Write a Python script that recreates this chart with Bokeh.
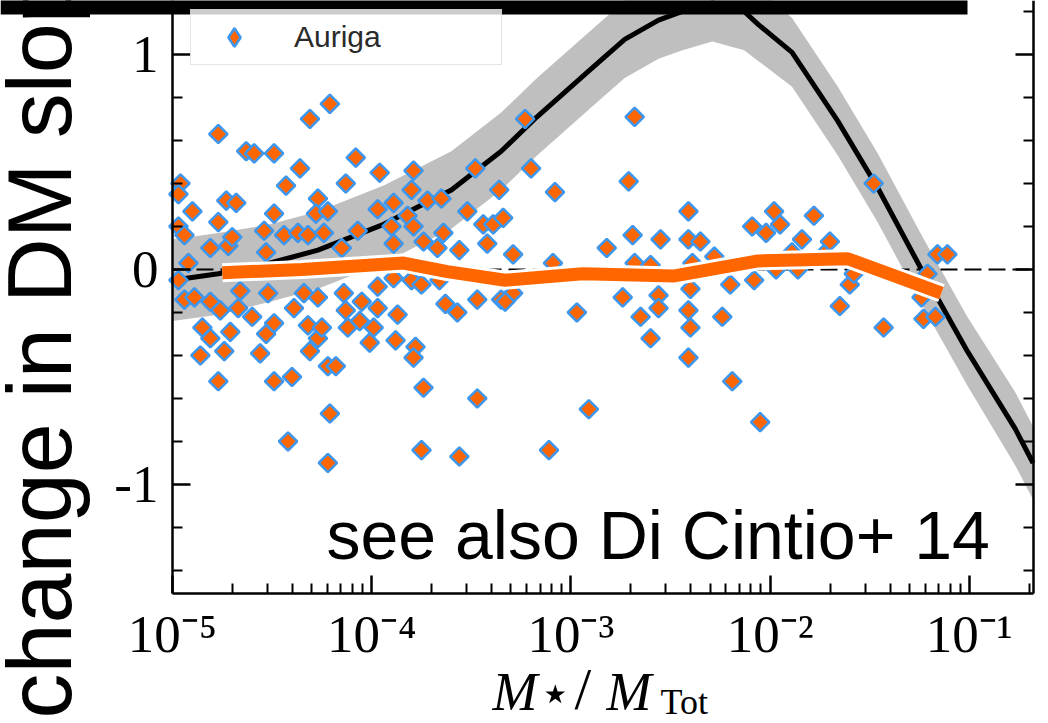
import numpy as np
from bokeh.plotting import figure
from bokeh.models import (Range1d, FixedTicker, LinearAxis, CustomJSTickFormatter,
                          Label, BoxAnnotation, LegendItem, Legend)
from bokeh.embed import file_html
from bokeh.resources import INLINE

# ---------------- data ----------------
curve_logx = [-5.00, -4.77, -4.51, -4.27, -3.94, -3.60, -3.35, -3.17, -2.89, -2.73,
              -2.56, -2.44, -2.29, -2.13, -2.06, -1.89, -1.66, -1.46, -1.24, -1.01,
              -0.77, -0.68]
curve_y = [-0.05, -0.02, 0.03, 0.09, 0.21, 0.37, 0.55, 0.71, 0.94, 1.07,
           1.16, 1.20, 1.24, 1.20, 1.14, 1.01, 0.69, 0.38, 0.00, -0.38,
           -0.74, -0.90]
curve_halfwidth = [0.19, 0.19, 0.18, 0.18, 0.18, 0.18, 0.18, 0.18, 0.18, 0.18,
                   0.18, 0.18, 0.18, 0.18, 0.17, 0.16, 0.16, 0.16, 0.16, 0.16,
                   0.17, 0.17]

median_logx = [-4.75, -4.35, -3.84, -3.62, -3.33, -2.94, -2.48, -2.06, -1.61, -1.14]
median_y = [-0.015, 0.0, 0.03, -0.01, -0.05, -0.02, -0.03, 0.04, 0.05, -0.11]

auriga_logx = [
    -4.21, -4.31, -4.77, -4.63, -4.59, -4.49, -4.36, -4.43, -4.96, -4.97,
    -4.73, -4.68, -4.90, -4.49, -4.27, -4.77, -4.97, -4.94, -4.54, -4.44,
    -4.37, -4.32, -4.24, -4.81, -4.72, -4.53, -4.28, -4.22, -4.92, -4.97,
    -4.94, -4.81, -4.67, -4.52, -4.39, -4.34, -4.27, -4.85, -4.81, -4.71,
    -4.60, -4.53, -4.49, -4.32, -4.27, -4.25, -4.74, -4.86, -4.56, -4.31,
    -4.22, -4.77, -4.49, -4.40, -4.21, -4.42, -4.22, -4.89, -4.76, -4.66,
    -4.70, -4.08, -3.96, -3.79, -4.13, -3.48, -3.36, -3.80, -3.89, -3.97,
    -3.72, -3.65, -3.82, -3.52, -4.07, -3.90, -3.79, -3.64, -3.44, -3.39,
    -3.74, -3.67, -3.56, -3.42, -3.89, -4.15, -4.14, -3.97, -4.05, -3.97,
    -4.13, -3.87, -4.06, -3.99, -4.12, -3.63, -3.57, -3.47, -3.35, -4.01,
    -3.88, -3.78, -3.79, -4.18, -3.74, -3.47, -3.75, -3.56, -3.89, -3.80,
    -3.75, -3.66, -3.23, -2.68, -3.20, -2.71, -3.08, -3.34, -2.41, -2.69,
    -2.55, -2.41, -2.82, -3.29, -3.09, -2.68, -2.60, -2.39, -3.29, -3.33,
    -2.97, -2.74, -2.56, -2.56, -2.65, -2.41, -2.40, -2.60, -2.41, -2.91,
    -3.11, -2.40, -1.48, -1.98, -1.78, -2.09, -1.95, -2.02, -1.84, -1.70,
    -2.28, -1.89, -1.73, -1.16, -1.11, -1.21, -2.20, -2.08, -1.60, -1.97,
    -1.86, -1.58, -1.65, -1.24, -2.24, -1.43, -1.23, -1.17, -2.19, -2.05,
    -2.35]
auriga_y = [
    0.77, 0.70, 0.63, 0.55, 0.54, 0.54, 0.47, 0.39, 0.40, 0.35,
    0.32, 0.31, 0.27, 0.26, 0.33, 0.22, 0.20, 0.16, 0.18, 0.16,
    0.17, 0.16, 0.17, 0.10, 0.11, 0.08, 0.26, 0.27, 0.03, -0.05,
    -0.14, -0.15, -0.18, -0.11, -0.18, -0.11, -0.13, -0.27, -0.32, -0.29,
    -0.22, -0.30, -0.25, -0.26, -0.32, -0.27, -0.38, -0.40, -0.39, -0.38,
    -0.45, -0.52, -0.52, -0.50, -0.67, -0.80, -0.90, -0.13, -0.19, -0.10,
    0.15, 0.52, 0.45, 0.46, 0.40, 0.47, 0.37, 0.37, 0.31, 0.28,
    0.32, 0.33, 0.25, 0.27, 0.18, 0.20, 0.20, 0.17, 0.21, 0.21,
    0.13, 0.10, 0.09, 0.12, 0.12, 0.10, -0.11, -0.08, -0.15, -0.18,
    -0.19, -0.21, -0.24, -0.27, -0.27, -0.16, -0.20, -0.14, -0.14, -0.34,
    -0.33, -0.36, -0.41, -0.45, -0.55, -0.60, -0.84, -0.87, -0.04, -0.05,
    -0.07, -0.05, 0.70, 0.71, 0.47, 0.41, 0.36, 0.24, 0.27, 0.16,
    0.14, 0.14, 0.10, 0.07, 0.03, 0.03, 0.02, 0.03, -0.11, -0.15,
    -0.20, -0.13, -0.12, -0.18, -0.22, -0.19, -0.27, -0.32, -0.41, -0.65,
    -0.84, -0.09, 0.40, 0.27, 0.25, 0.20, 0.21, 0.17, 0.14, 0.13,
    0.06, 0.08, 0.07, 0.07, 0.07, -0.02, -0.07, -0.05, -0.07, 0.00,
    0.00, -0.02, -0.17, -0.13, -0.22, -0.27, -0.23, -0.22, -0.52, -0.71,
    0.13]

x_major_ticks = [1e-5, 1e-4, 1e-3, 1e-2, 1e-1]
x_minor_mantissas = [2, 3, 4, 5, 6, 7, 8, 9]
y_major_ticks = [-1, 0, 1]
y_minor_ticks = [-1.4, -1.2, -0.8, -0.6, -0.4, -0.2, 0.2, 0.4, 0.6, 0.8, 1.2]
x_limits = (1e-5, 0.21)
y_limits = (-1.507, 1.251)
zero_level = 0.0

# ---------------- layout (pixels) ----------------
W, H = 1048, 723
ax_left, ax_right, ax_top, ax_bottom = 172, 1033, 0, 593

lx0, lx1 = np.log10(x_limits[0]), np.log10(x_limits[1])
ppd = (ax_right - ax_left) / (lx1 - lx0)
x_start = 10 ** (lx0 - ax_left / ppd)
x_end = 10 ** (lx1 + (W - ax_right) / ppd)
ppu = (ax_bottom - ax_top) / (y_limits[1] - y_limits[0])
y_end = y_limits[1] + ax_top / ppu
y_start = y_limits[0] - (H - ax_bottom) / ppu

p = figure(width=W, height=H, x_axis_type="log",
           x_range=Range1d(x_start, x_end), y_range=Range1d(y_start, y_end),
           output_backend="svg", toolbar_location=None,
           min_border_left=0, min_border_right=0,
           min_border_top=0, min_border_bottom=0)
p.outline_line_color = None
p.xgrid.visible = False
p.ygrid.visible = False
p.background_fill_color = "white"
p.border_fill_color = "white"

cx = [10 ** v for v in curve_logx]
lo = [c - h for c, h in zip(curve_y, curve_halfwidth)]
hi = [c + h for c, h in zip(curve_y, curve_halfwidth)]
p.varea(x=cx, y1=lo, y2=hi, fill_color="#bfbfbf")
p.line(cx, curve_y, line_color="black", line_width=5, line_join="round")

p.line(list(x_limits), [zero_level, zero_level], line_color="black",
       line_width=2, line_dash="17 7")

ax = [10 ** v for v in auriga_logx]
# legend swatch renderer (a diamond under the first Auriga point, hidden by it)
leg_r = p.scatter(ax[:1], auriga_y[:1], marker="diamond", size=13,
                  fill_color="#ff6600", line_color="#3d97ee", line_width=2.5)
sc = p.scatter(ax, auriga_y, marker="square", angle=np.pi / 4, size=13,
               fill_color="#ff6600", line_color="#3d97ee", line_width=2.5)

mx = [10 ** v for v in median_logx]
p.line(mx, median_y, line_color="white", line_width=19, line_cap="butt", line_join="round")
p.line(mx, median_y, line_color="#ff6600", line_width=13, line_cap="butt", line_join="round")

# ---------------- axes (fixed at the box edges) ----------------
minor_x = [m * t for t in x_major_ticks for m in x_minor_mantissas if m * t <= x_limits[1]]
x_ticker = FixedTicker(ticks=x_major_ticks, minor_ticks=minor_x)
y_ticker = FixedTicker(ticks=y_major_ticks, minor_ticks=y_minor_ticks)

sup_fmt = CustomJSTickFormatter(code="""
const e = Math.round(Math.log10(tick));
const sup = {'-':'\u207b','0':'\u2070','1':'\u00b9','2':'\u00b2','3':'\u00b3','4':'\u2074',
             '5':'\u2075','6':'\u2076','7':'\u2077','8':'\u2078','9':'\u2079'};
return '10' + String(e).split('').map(c => sup[c]).join('');
""")
blank_fmt = CustomJSTickFormatter(code="return '';")

def style_axis(a):
    a.axis_line_width = 2.5
    a.axis_line_color = "black"
    a.major_tick_line_width = 2.5
    a.minor_tick_line_width = 2
    a.major_tick_in = 18
    a.major_tick_out = 0
    a.minor_tick_in = 10
    a.minor_tick_out = 0
    a.major_label_text_font = "Liberation Serif"
    a.major_label_text_font_size = "53px"
    a.major_label_text_color = "black"

xa = p.xaxis[0]
xa.ticker = x_ticker
xa.formatter = sup_fmt
xa.fixed_location = y_limits[0]
xa.bounds = x_limits
style_axis(xa)
xa.major_label_standoff = 11

ya = p.yaxis[0]
ya.ticker = y_ticker
ya.fixed_location = x_limits[0]
ya.bounds = y_limits
style_axis(ya)
ya.major_label_standoff = 14
ya.major_label_overrides = {-1: "-1", 0: "0", 1: "1"}

ra = LinearAxis(ticker=y_ticker, fixed_location=x_limits[1], bounds=y_limits,
                formatter=blank_fmt)
style_axis(ra)
ra.major_label_standoff = 0
p.add_layout(ra, "right")

# ---------------- legend ----------------
legend = Legend(items=[LegendItem(label="Auriga", renderers=[leg_r])],
                location=(190, H - 65), padding=4, glyph_width=78, glyph_height=46,
                label_standoff=21, label_width=203, label_height=34,
                label_text_font="Liberation Sans", label_text_font_size="30px",
                label_text_color="#2a2a2a", border_line_color="#cccccc",
                border_line_width=1.5, background_fill_alpha=0.8, margin=0)
p.add_layout(legend)

# ---------------- texts (screen units; frame = whole canvas) ----------------
p.add_layout(Label(x=89, y=H - 718, x_units="screen", y_units="screen",
                   text="change in DM slope", angle=np.pi / 2,
                   text_font="Liberation Sans", text_font_size="90px",
                   text_color="black", text_baseline="bottom", text_align="left"))
p.add_layout(Label(x=326, y=H - 572, x_units="screen", y_units="screen",
                   text="see also Di Cintio+ 14",
                   text_font="Liberation Sans", text_font_size="68px",
                   text_color="black", text_baseline="bottom", text_align="left"))

for txt, px, base, size, style in [("M", 492, 710, 54, "italic"),
                                   ("\u22c6", 538, 711, 52, "normal"),
                                   ("/", 574, 709, 60, "normal"),
                                   ("M", 606, 710, 54, "italic"),
                                   ("Tot", 660, 714, 36, "normal")]:
    p.add_layout(Label(x=px, y=H - base - 0.21 * size, x_units="screen", y_units="screen",
                       text=txt, text_font="Liberation Serif", text_font_size=f"{size}px",
                       text_font_style=style, text_color="black",
                       text_baseline="bottom", text_align="left"))

# black bar across the top
p.add_layout(BoxAnnotation(left=0, right=967, bottom=H - 14, top=H + 10,
                           left_units="screen", right_units="screen",
                           bottom_units="screen", top_units="screen",
                           fill_color="black", fill_alpha=1.0, line_color=None,
                           level="overlay"))

open("out.html", "w").write(file_html(p, INLINE))
